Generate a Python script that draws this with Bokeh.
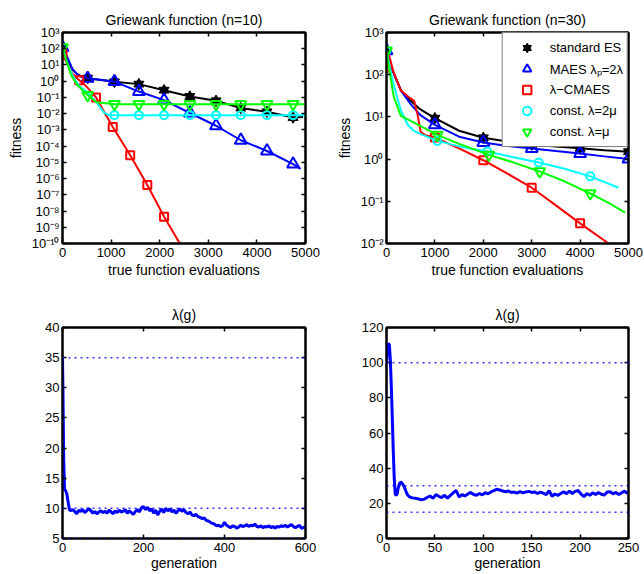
from bokeh.plotting import figure
from bokeh.models import (FixedTicker, CustomJSTickFormatter, Legend, LegendItem,
                          Span, LogAxis, LinearAxis, Range1d)
from bokeh.layouts import gridplot
from bokeh.embed import file_html
from bokeh.resources import INLINE

FONT = "Liberation Sans"

# ---------------- data: Griewank n=10 (top-left) ----------------
tl_es_x = [0, 100, 200, 300, 400, 517, 1069, 1572, 2090, 2621, 3159, 3669, 4207, 4745, 4950]
tl_es_y = [120, 22, 5.5, 2.8, 1.9, 1.54, 0.91, 0.66, 0.28, 0.114, 0.062, 0.022, 0.013, 0.0058, 0.0062]
tl_es_mx = [0, 517, 1069, 1572, 2090, 2621, 3159, 3669, 4207, 4745]
tl_es_my = [120, 1.54, 0.91, 0.66, 0.28, 0.114, 0.062, 0.022, 0.013, 0.0058]

tl_ma_x = [0, 100, 200, 300, 400, 517, 1069, 1572, 2090, 2621, 3159, 3669, 4207, 4745, 4900]
tl_ma_y = [120, 30, 6, 2.6, 1.8, 1.5, 0.95, 0.23, 0.068, 0.011, 0.0018, 2.3e-4, 5e-5, 7.8e-6, 4e-6]
tl_ma_mx = [0, 517, 1069, 1572, 2090, 2621, 3159, 3669, 4207, 4745]
tl_ma_my = [120, 1.5, 0.95, 0.23, 0.068, 0.011, 0.0018, 2.3e-4, 5e-5, 7.8e-6]

tl_cm_x = [0, 100, 200, 345, 500, 690, 1034, 1393, 1745, 2090, 2414]
tl_cm_y = [46, 12, 3, 1.15, 0.45, 0.1, 1.5e-3, 2.7e-5, 4e-7, 4.4e-9, 1e-10]
tl_cm_mx = [0, 345, 690, 1034, 1393, 1745, 2090]
tl_cm_my = [46, 1.15, 0.1, 1.5e-3, 2.7e-5, 4e-7, 4.4e-9]

tl_c2_x = [0, 100, 200, 345, 517, 700, 850, 950, 5000]
tl_c2_y = [120, 12, 2.5, 0.5, 0.2, 0.05, 0.012, 0.0081, 0.0081]
tl_c2_mx = [1069, 1572, 2090, 2621, 3159, 3669, 4207, 4745]
tl_c2_my = [0.0081, 0.0081, 0.0081, 0.0081, 0.0081, 0.0081, 0.0081, 0.0081]

tl_c1_x = [0, 60, 120, 172, 300, 517, 700, 1069, 5000]
tl_c1_y = [120, 30, 8, 2.5, 0.6, 0.138, 0.05, 0.0385, 0.0385]
tl_c1_mx = [0, 517, 1069, 1572, 2090, 2621, 3159, 3669, 4207, 4745]
tl_c1_my = [120, 0.138, 0.0385, 0.0385, 0.0385, 0.0385, 0.0385, 0.0385, 0.0385, 0.0385]

# ---------------- data: Griewank n=30 (top-right) ----------------
tr_es_x = [0, 100, 200, 300, 500, 700, 1000, 1500, 2000, 2500, 3000, 3500, 4000, 4500, 5000]
tr_es_y = [370, 150, 80, 42, 24, 15, 9.3, 4.7, 3.2, 2.6, 2.2, 2.0, 1.8, 1.62, 1.5]
tr_es_mx = [0, 1000, 2000, 3000, 4000, 5000]
tr_es_my = [370, 9.3, 3.2, 2.2, 1.8, 1.5]

tr_ma_x = [0, 100, 200, 300, 500, 700, 1000, 1500, 2000, 2500, 3000, 3500, 4000, 4500, 5000]
tr_ma_y = [370, 150, 78, 42, 20, 11, 6.5, 3.4, 2.47, 2.05, 1.78, 1.55, 1.36, 1.16, 1.0]
tr_ma_mx = [0, 1000, 2000, 3000, 4000, 5000]
tr_ma_my = [370, 6.5, 2.47, 1.78, 1.36, 1.0]

tr_cm_x = [0, 40, 150, 300, 450, 570, 640, 707, 800, 1000, 1500, 2000, 2500, 3000, 3500, 4000, 4590]
tr_cm_y = [148, 330, 110, 42, 30, 24, 11.6, 4.4, 3.7, 3.25, 1.8, 0.94, 0.45, 0.21, 0.08, 0.030, 0.01]
tr_cm_mx = [0, 1000, 2000, 3000, 4000]
tr_cm_my = [148, 3.25, 0.94, 0.21, 0.030]

tr_c2_x = [0, 100, 200, 300, 433, 550, 707, 1050, 1500, 2080, 2600, 3145, 3700, 4210, 4794]
tr_c2_y = [370, 100, 35, 14, 6.7, 4.8, 3.9, 2.7, 2.0, 1.51, 1.12, 0.83, 0.58, 0.39, 0.21]
tr_c2_mx = [0, 1050, 2080, 3145, 4210]
tr_c2_my = [370, 2.7, 1.51, 0.83, 0.39]

tr_c1_x = [0, 50, 150, 295, 600, 1050, 1500, 2115, 2600, 3166, 3700, 4210, 4600, 4931]
tr_c1_y = [370, 150, 30, 10.6, 7.0, 3.76, 2.3, 1.26, 0.85, 0.51, 0.29, 0.153, 0.09, 0.054]
tr_c1_mx = [0, 1050, 2115, 3166, 4210]
tr_c1_my = [370, 3.76, 1.26, 0.51, 0.153]

# ---------------- data: lambda(g) n=10 (bottom-left) ----------------
bl_early_g = [0, 1, 3, 5, 8, 11, 14, 17]
bl_early_v = [35, 30, 18, 13.2, 12.9, 12.3, 11.0, 9.8]
bl_vals = [9.6, 9.8, 9.5, 9.1, 9.7, 9.5, 9.8, 9.3, 9.6, 10.0, 9.6, 9.2, 9.5, 9.1, 9.4, 9.6, 9.3,
           9.5, 9.2, 9.7, 9.4, 9.1, 9.6, 9.3, 9.7, 9.4, 9.5, 9.8, 9.2, 9.6, 9.3, 9.0, 9.5, 9.8, 9.4, 10.1, 10.3,
           9.8, 10.2, 9.6, 9.9, 9.2, 9.7, 8.9, 9.5, 9.9, 9.3, 10.0, 9.6, 9.9, 9.4, 9.7, 9.2, 9.6, 9.9, 9.5, 9.8,
           9.3, 9.1, 9.4, 8.9, 8.8, 9.0, 8.6, 8.5, 8.3, 8.4, 8.0, 7.9, 7.7, 7.5, 7.4, 7.1, 7.2, 7.0, 7.1, 7.7,
           7.2, 7.0, 6.8, 7.1, 7.0, 6.7, 6.9, 7.2, 7.0, 7.1, 7.3, 7.0, 7.2, 7.1, 7.4, 7.0, 6.9, 7.1, 6.8, 7.0,
           6.9, 7.1, 6.8, 7.0, 6.7, 7.0, 6.9, 7.1, 7.0, 7.2, 6.9, 7.1, 7.3, 7.0, 6.8, 7.0, 7.2, 6.7, 6.8, 7.0]
bl_start, bl_step = 20, 5
bl_levels = [5, 10, 35]

# ---------------- data: lambda(g) n=30 (bottom-right) ----------------
br_early_g = [0, 1, 2, 3, 4, 5, 6, 7, 8, 9, 10, 11, 12, 13, 14, 15, 16, 17, 18, 19, 20, 21, 22, 24, 26, 28, 30, 33]
br_early_v = [100, 108, 111, 110, 101, 86, 68, 50, 34, 25.5, 24.5, 25.5, 28.5, 30.5, 31.8, 32, 31.5, 30.6,
              29.8, 28.5, 27, 25.6, 24.6, 23.6, 23.2, 23.0, 22.9, 22.5]
br_vals = [22.0, 22.4, 23.3, 24.2, 22.8, 25.0, 24.0, 23.3, 24.6, 23.0, 24.5, 26.0, 27.3, 23.6, 25.0, 24.2,
           25.3, 26.2, 25.0, 24.6, 25.6, 24.8, 26.0, 25.4, 26.5, 27.3, 28.0, 27.6, 27.0, 26.6, 27.0, 26.2,
           26.4, 25.8, 26.7, 26.0, 26.5, 26.8, 26.2, 26.5, 25.6, 26.4, 25.8, 25.0, 27.2, 24.0, 25.3, 24.5,
           25.6, 26.6, 25.5, 27.0, 25.6, 26.8, 27.3, 25.2, 23.8, 25.6, 24.6, 26.0, 25.0, 26.2, 25.2, 24.7,
           26.4, 26.6, 25.4, 26.2, 25.0, 26.0, 27.0, 25.6]
br_start, br_step = 36, 3
br_levels = [15, 30, 100]

# ---------------- axes ticks ----------------
top_xticks = [0, 1000, 2000, 3000, 4000, 5000]
tl_yticks = [1e-10, 1e-9, 1e-8, 1e-7, 1e-6, 1e-5, 1e-4, 1e-3, 1e-2, 1e-1, 1e0, 1e1, 1e2, 1e3]
tl_ylabels = ["10⁻¹⁰", "10⁻⁹", "10⁻⁸", "10⁻⁷", "10⁻⁶", "10⁻⁵", "10⁻⁴", "10⁻³", "10⁻²", "10⁻¹",
              "10⁰", "10¹", "10²", "10³"]
tr_yticks = [1e-2, 1e-1, 1e0, 1e1, 1e2, 1e3]
tr_ylabels = ["10⁻²", "10⁻¹", "10⁰", "10¹", "10²", "10³"]
bl_xticks = [0, 200, 400, 600]
bl_yticks = [5, 10, 15, 20, 25, 30, 35, 40]
br_xticks = [0, 50, 100, 150, 200, 250]
br_yticks = [0, 20, 40, 60, 80, 100, 120]

C_ES, C_MA, C_CM, C_C2, C_C1 = "#000000", "#0000ff", "#ff0000", "#00ffff", "#00ff00"
BLUE = "#0000ff"

LOG_FMT = """
let best = 0, bd = Infinity;
for (let i = 0; i < tvals.length; i++) {
  const d = Math.abs(Math.log10(tvals[i]) - Math.log10(tick));
  if (d < bd) { bd = d; best = i; }
}
return tlabels[best];
"""


def make_fig(w, h, left, right, top, bottom, x_range, y_range, ylog, title):
    p = figure(width=w, height=h, output_backend="svg", toolbar_location=None,
               x_range=x_range, y_range=y_range,
               y_axis_type="log" if ylog else "linear",
               min_border_left=left, min_border_right=right,
               min_border_top=top, min_border_bottom=bottom)
    p.title.text = title
    p.title.align = "center"
    p.title.text_font = FONT
    p.title.text_font_size = "14px"
    p.title.text_font_style = "normal"
    p.title.text_color = "black"
    p.outline_line_color = "black"
    p.outline_line_width = 2
    p.xgrid.visible = False
    p.ygrid.visible = False
    p.background_fill_color = "white"
    p.border_fill_color = "white"
    return p


def style_axis(ax, ticks, fmt=None):
    ax.ticker = FixedTicker(ticks=ticks, minor_ticks=[])
    if fmt is not None:
        ax.formatter = fmt
    ax.major_tick_in = 4
    ax.major_tick_out = 0
    ax.minor_tick_in = 0
    ax.minor_tick_out = 0
    ax.axis_line_color = "black"
    ax.axis_line_width = 2
    ax.major_tick_line_color = "black"
    ax.major_tick_line_width = 1.5
    ax.major_label_text_font = FONT
    ax.major_label_text_font_size = "13px"
    ax.major_label_text_color = "black"
    ax.axis_label_text_font = FONT
    ax.axis_label_text_font_size = "14px"
    ax.axis_label_text_font_style = "normal"
    ax.axis_label_text_color = "black"


def add_mirror_axes(p, xticks, yticks, ylog):
    blank = CustomJSTickFormatter(code="return '';")
    top = LinearAxis()
    style_axis(top, xticks, blank)
    top.major_label_text_font_size = "1px"
    top.major_label_standoff = 0
    p.add_layout(top, "above")
    right = LogAxis() if ylog else LinearAxis()
    style_axis(right, yticks, blank)
    right.major_label_text_font_size = "1px"
    right.major_label_standoff = 0
    p.add_layout(right, "right")


def series(p, x, y, mx, my, color, marker, size):
    p.line(x, y, line_color=color, line_width=2)
    if marker == "hexagram":
        r1 = p.scatter(mx, my, marker="triangle", size=size, fill_color=color, line_color=color)
        r2 = p.scatter(mx, my, marker="inverted_triangle", size=size, fill_color=color, line_color=color)
        return [r1, r2]
    r = p.scatter(mx, my, marker=marker, size=size, fill_color=None, line_color=color, line_width=2)
    return [r]


# ---------------- top-left ----------------
p1 = make_fig(322, 287, 62, 17, 32, 44, Range1d(0, 5000), Range1d(1e-10, 1e3), True,
              "Griewank function (n=10)")
series(p1, tl_es_x, tl_es_y, tl_es_mx, tl_es_my, C_ES, "hexagram", 10)
series(p1, tl_ma_x, tl_ma_y, tl_ma_mx, tl_ma_my, C_MA, "triangle", 12)
series(p1, tl_cm_x, tl_cm_y, tl_cm_mx, tl_cm_my, C_CM, "square", 8)
series(p1, tl_c2_x, tl_c2_y, tl_c2_mx, tl_c2_my, C_C2, "circle", 8)
series(p1, tl_c1_x, tl_c1_y, tl_c1_mx, tl_c1_my, C_C1, "inverted_triangle", 11)
style_axis(p1.xaxis[0], top_xticks)
style_axis(p1.yaxis[0], tl_yticks,
           CustomJSTickFormatter(args=dict(tvals=tl_yticks, tlabels=tl_ylabels), code=LOG_FMT))
p1.xaxis[0].axis_label = "true function evaluations"
p1.xaxis[0].major_label_standoff = 4
p1.xaxis[0].axis_label_standoff = 2
p1.yaxis[0].axis_label = "fitness"
p1.yaxis[0].major_label_standoff = 3
p1.yaxis[0].axis_label_standoff = 5
add_mirror_axes(p1, top_xticks, tl_yticks, True)

# ---------------- top-right ----------------
p2 = make_fig(321, 287, 64, 15, 32, 44, Range1d(0, 5000), Range1d(1e-2, 1e3), True,
              "Griewank function (n=30)")
r_es = series(p2, tr_es_x, tr_es_y, tr_es_mx, tr_es_my, C_ES, "hexagram", 10)
r_ma = series(p2, tr_ma_x, tr_ma_y, tr_ma_mx, tr_ma_my, C_MA, "triangle", 12)
r_cm = series(p2, tr_cm_x, tr_cm_y, tr_cm_mx, tr_cm_my, C_CM, "square", 8)
r_c2 = series(p2, tr_c2_x, tr_c2_y, tr_c2_mx, tr_c2_my, C_C2, "circle", 8)
r_c1 = series(p2, tr_c1_x, tr_c1_y, tr_c1_mx, tr_c1_my, C_C1, "inverted_triangle", 11)
style_axis(p2.xaxis[0], top_xticks)
style_axis(p2.yaxis[0], tr_yticks,
           CustomJSTickFormatter(args=dict(tvals=tr_yticks, tlabels=tr_ylabels), code=LOG_FMT))
p2.xaxis[0].axis_label = "true function evaluations"
p2.xaxis[0].major_label_standoff = 4
p2.xaxis[0].axis_label_standoff = 2
p2.yaxis[0].axis_label = "fitness"
p2.yaxis[0].major_label_standoff = 3
p2.yaxis[0].axis_label_standoff = 5
add_mirror_axes(p2, top_xticks, tr_yticks, True)

legend_labels = ["standard ES", "MAES λₚ=2λ", "λ−CMAES", "const. λ=2μ", "const. λ=μ"]
legend = Legend(items=[LegendItem(label=lab, renderers=rs) for lab, rs in
                       zip(legend_labels, [r_es, r_ma, r_cm, r_c2, r_c1])],
                location="top_right")
legend.margin = 0
legend.padding = 4
legend.spacing = 0
legend.glyph_width = 40
legend.glyph_height = 21
legend.label_height = 21
legend.label_standoff = 3
legend.label_text_font = FONT
legend.label_text_font_size = "13px"
legend.label_text_color = "black"
legend.border_line_color = "black"
legend.border_line_width = 1.5
legend.background_fill_alpha = 1.0
p2.add_layout(legend)

# ---------------- bottom-left ----------------
p3 = make_fig(322, 286, 62, 17, 40, 35, Range1d(0, 600), Range1d(5, 40), False, "λ(g)")
bl_g = bl_early_g + list(range(bl_start, bl_start + bl_step * len(bl_vals), bl_step))
bl_v = bl_early_v + bl_vals
for lev in bl_levels:
    p3.add_layout(Span(location=lev, dimension="width", line_color=BLUE, line_width=1.5,
                       line_dash="2 4", line_alpha=0.8))
p3.line(bl_g, bl_v, line_color=BLUE, line_width=3)
style_axis(p3.xaxis[0], bl_xticks)
style_axis(p3.yaxis[0], bl_yticks)
p3.xaxis[0].axis_label = "generation"
p3.xaxis[0].major_label_standoff = 4
p3.xaxis[0].axis_label_standoff = 0
p3.yaxis[0].major_label_standoff = 3
add_mirror_axes(p3, bl_xticks, bl_yticks, False)

# ---------------- bottom-right ----------------
p4 = make_fig(321, 286, 64, 15, 40, 35, Range1d(0, 250), Range1d(0, 120), False, "λ(g)")
br_g = br_early_g + list(range(br_start, br_start + br_step * len(br_vals), br_step))
br_v = br_early_v + br_vals
for lev in br_levels:
    p4.add_layout(Span(location=lev, dimension="width", line_color=BLUE, line_width=1.5,
                       line_dash="2 4", line_alpha=0.8))
p4.line(br_g, br_v, line_color=BLUE, line_width=3)
style_axis(p4.xaxis[0], br_xticks)
style_axis(p4.yaxis[0], br_yticks)
p4.xaxis[0].axis_label = "generation"
p4.xaxis[0].major_label_standoff = 4
p4.xaxis[0].axis_label_standoff = 0
p4.yaxis[0].major_label_standoff = 3
add_mirror_axes(p4, br_xticks, br_yticks, False)

grid = gridplot([[p1, p2], [p3, p4]], toolbar_location=None)
open("out.html", "w").write(file_html(grid, INLINE))
